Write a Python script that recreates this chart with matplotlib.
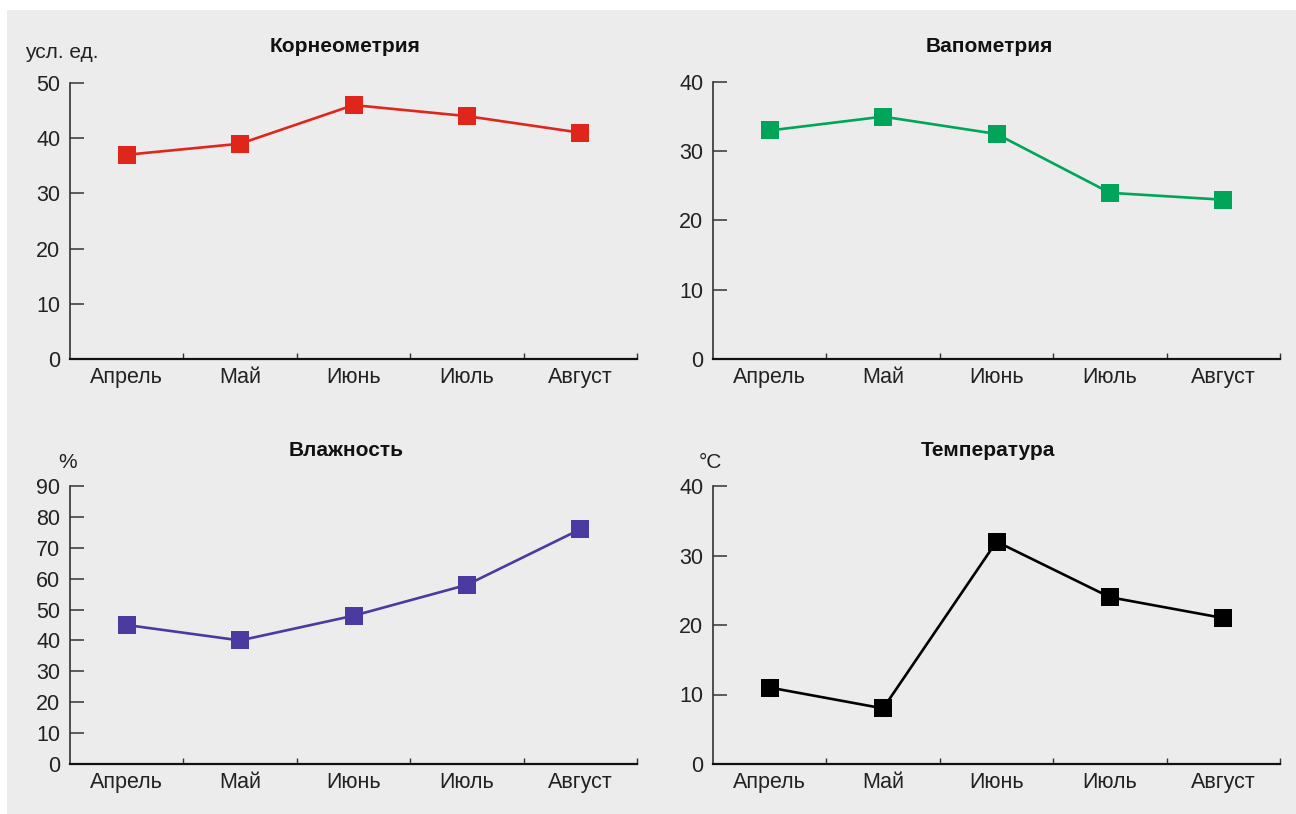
import matplotlib
matplotlib.use("Agg")
from matplotlib import pyplot as plt
from matplotlib.patches import Rectangle
import numpy as np

plt.rcParams['font.family'] = ['Liberation Sans', 'DejaVu Sans']

months = ["Апрель", "Май", "Июнь", "Июль", "Август"]

# значения по месяцам
korneometria = [37, 39, 46, 44, 41]
vapometria = [33, 35, 32.5, 24, 23]
vlazhnost = [45, 40, 48, 58, 76]
temperatura = [11, 8, 32, 24, 21]

W, H = 1296, 814
fig = plt.figure(figsize=(W / 100, H / 100), dpi=100, facecolor='white')

# серая подложка
fig.patches.append(Rectangle((7 / W, 0), 1 - 7 / W, 1 - 10 / H,
                             transform=fig.transFigure, facecolor='#ececec',
                             edgecolor='none', zorder=-10))


def px_axes(x0, x1, ytop, ybot):
    return fig.add_axes([x0 / W, 1 - ybot / H, (x1 - x0) / W, (ybot - ytop) / H])


def draw(ax, values, color, ymax, step, title, tx, ty):
    x = np.arange(len(values))
    ax.set_facecolor('none')
    ax.plot(x, values, color=color, lw=1.9, marker='s', ms=12.5,
            markeredgewidth=0, clip_on=False, zorder=3)
    ax.set_xlim(-0.5, len(values) - 0.5)
    ax.set_ylim(0, ymax)
    for s in ['top', 'right']:
        ax.spines[s].set_visible(False)
    ax.spines['left'].set_color('#333333')
    ax.spines['left'].set_linewidth(1.2)
    ax.spines['bottom'].set_color('#111111')
    ax.spines['bottom'].set_linewidth(1.6)
    ax.set_yticks(np.arange(0, ymax + 1, step))
    ax.tick_params(axis='y', direction='in', length=10, width=1.1,
                   color='#333333', labelsize=15.5, labelcolor='#222222', pad=7)
    # метки категорий по центру, засечки на границах
    ax.set_xticks(x)
    ax.set_xticklabels(months)
    ax.set_xticks(np.arange(0.5, len(values), 1), minor=True)
    ax.tick_params(axis='x', which='major', length=0, labelsize=15.5,
                   labelcolor='#222222', pad=6)
    ax.tick_params(axis='x', which='minor', direction='in', length=4,
                   width=1, color='#333333')
    fig.text(tx / W, 1 - ty / H, title, ha='center', va='center',
             fontsize=15, fontweight='bold', color='#111111')


ax1 = px_axes(70, 637, 83, 359)
draw(ax1, korneometria, '#e0261b', 50, 10, "Корнеометрия", 345, 47)
fig.text(62 / W, 1 - 53 / H, "усл. ед.", ha='center', va='center',
         fontsize=15, color='#222222')

ax2 = px_axes(713, 1280, 82, 359)
draw(ax2, vapometria, '#00a55a', 40, 10, "Вапометрия", 989, 47)

ax3 = px_axes(70, 637, 486, 764)
draw(ax3, vlazhnost, '#4b3aa0', 90, 10, "Влажность", 346, 451)
fig.text(68 / W, 1 - 463 / H, "%", ha='center', va='center',
         fontsize=15, color='#222222')

ax4 = px_axes(713, 1280, 486, 764)
draw(ax4, temperatura, '#000000', 40, 10, "Температура", 988, 451)
fig.text(710 / W, 1 - 462 / H, "°C", ha='center', va='center',
         fontsize=15, color='#222222')

plt.savefig('out.png', dpi=100, facecolor='white')
